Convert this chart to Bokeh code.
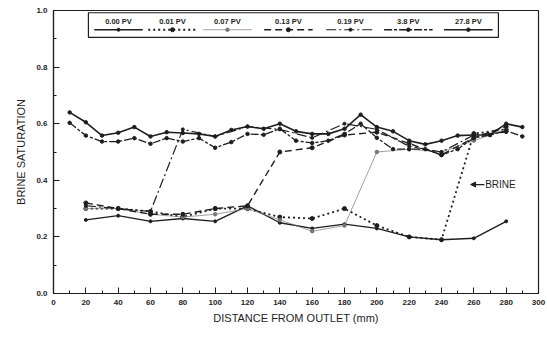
from bokeh.plotting import figure
from bokeh.models import Range1d, FixedTicker, Arrow, NormalHead, ColumnDataSource
from bokeh.core.properties import value
from bokeh.embed import file_html
from bokeh.resources import INLINE

# ---- data ----
x_fine = [10, 20, 30, 40, 50, 60, 70, 80, 90, 100, 110, 120, 130, 140, 150,
          160, 170, 180, 190, 200, 210, 220, 230, 240, 250, 260, 270, 280, 290]
x_coarse = [20, 40, 60, 80, 100, 120, 140, 160, 180, 200, 220, 240, 260, 280]

pv_000 = [0.26, 0.275, 0.255, 0.265, 0.255, 0.31, 0.25, 0.23, 0.245, 0.23, 0.20, 0.19, 0.195, 0.255]
pv_001 = [0.30, 0.30, 0.29, 0.27, 0.30, 0.30, 0.27, 0.265, 0.30, 0.24, 0.20, 0.19, 0.565, 0.58]
pv_007 = [0.30, 0.30, 0.28, 0.27, 0.28, 0.30, 0.26, 0.22, 0.24, 0.50, 0.51, 0.50, 0.54, 0.58]
pv_013 = [0.32, 0.30, 0.28, 0.28, 0.30, 0.31, 0.50, 0.515, 0.56, 0.57, 0.53, 0.49, 0.55, 0.59]
pv_019 = [0.31, 0.30, 0.29, 0.58, 0.555, 0.59, 0.58, 0.55, 0.60, 0.58, 0.52, 0.50, 0.56, 0.57]
pv_38 = [0.603, 0.558, 0.537, 0.537, 0.549, 0.529, 0.549, 0.537, 0.549, 0.515, 0.535, 0.564,
         0.561, 0.582, 0.54, 0.532, 0.54, 0.564, 0.60, 0.55, 0.51, 0.51, 0.51, 0.49, 0.51,
         0.55, 0.56, 0.575, 0.555]
pv_278 = [0.64, 0.605, 0.558, 0.568, 0.588, 0.555, 0.57, 0.567, 0.564, 0.555, 0.578, 0.59,
          0.582, 0.60, 0.573, 0.564, 0.564, 0.582, 0.632, 0.588, 0.573, 0.54, 0.527, 0.54,
          0.558, 0.56, 0.56, 0.60, 0.588]

labels = ["0.00 PV", "0.01 PV", "0.07 PV", "0.13 PV", "0.19 PV", "3.8 PV", "27.8 PV"]
x_ticks = list(range(0, 301, 20))
y_ticks = [0.0, 0.2, 0.4, 0.6, 0.8, 1.0]

# ---- styles ----
INK = "#1e1e1e"
FONT = "Liberation Sans"
styles = [
    dict(dash="solid", width=1.4, color=INK, msize=3),
    dict(dash="2 3", width=1.8, color=INK, msize=4),
    dict(dash="solid", width=0.7, color="#777777", msize=3.5),
    dict(dash="7 4", width=1.4, color=INK, msize=4),
    dict(dash="10 3 2 3", width=1.2, color=INK, msize=3),
    dict(dash="8 2 3 2", width=1.3, color=INK, msize=3.5),
    dict(dash="solid", width=1.6, color=INK, msize=3.5),
]
series = [(x_coarse, pv_000), (x_coarse, pv_001), (x_coarse, pv_007), (x_coarse, pv_013),
          (x_coarse, pv_019), (x_fine, pv_38), (x_fine, pv_278)]

p = figure(width=547, height=338, output_backend="svg", toolbar_location=None,
           x_range=Range1d(0, 300), y_range=Range1d(0, 1.0),
           min_border_left=53, min_border_right=9, min_border_top=10, min_border_bottom=45)
p.background_fill_color = "white"
p.border_fill_color = "white"
p.outline_line_color = INK
p.outline_line_width = 1.2
p.xgrid.visible = False
p.ygrid.visible = False

for (xs, ys), st in zip(series, styles):
    src = ColumnDataSource(dict(x=xs, y=ys))
    p.line("x", "y", source=src, line_dash=st["dash"], line_width=st["width"],
           line_color=st["color"])
    p.scatter("x", "y", source=src, size=st["msize"], marker="circle",
              fill_color=st["color"], line_color=st["color"])

# axes
p.xaxis.ticker = FixedTicker(ticks=x_ticks, minor_ticks=list(range(0, 301, 10)))
p.yaxis.ticker = FixedTicker(ticks=y_ticks, minor_ticks=[i / 10 for i in range(11)])
p.yaxis.major_label_overrides = {t: f"{t:.1f}" for t in y_ticks}
for ax in (p.xaxis[0], p.yaxis[0]):
    ax.axis_line_color = INK
    ax.axis_line_width = 1.2
    ax.major_tick_in = 6
    ax.major_tick_out = 0
    ax.minor_tick_in = 3
    ax.minor_tick_out = 0
    ax.major_tick_line_color = INK
    ax.minor_tick_line_color = INK
    ax.major_label_text_font = FONT
    ax.major_label_text_font_style = "bold"
    ax.major_label_text_font_size = "8px"
    ax.major_label_text_color = INK
    ax.axis_label_text_font = FONT
    ax.axis_label_text_font_style = "normal"
    ax.axis_label_text_font_size = "11px"
    ax.axis_label_text_color = INK
p.xaxis.axis_label = "DISTANCE FROM OUTLET (mm)"
p.yaxis.axis_label = "BRINE SATURATION"
p.xaxis.major_label_standoff = 6
p.yaxis.major_label_standoff = 6
p.xaxis.axis_label_standoff = 4
p.yaxis.axis_label_standoff = 6

# ---- legend box drawn in data space ----
leg_centers = [40.2, 73.6, 107.6, 145.3, 183.7, 219.5, 256.6]
leg_half = 15
leg_label_y = 0.962
leg_line_y = 0.932
p.quad(left=[21.6], right=[275.2], bottom=[0.905], top=[0.992],
       fill_color="white", line_color=INK, line_width=1.2)
p.text(x=leg_centers, y=[leg_label_y] * 7, text=labels, text_font=value(FONT),
       text_font_style="bold", text_font_size="7.5px", text_align="center",
       text_baseline="middle", text_color=INK)
for c, st in zip(leg_centers, styles):
    p.line([c - leg_half, c + leg_half], [leg_line_y, leg_line_y], line_dash=st["dash"],
           line_width=st["width"], line_color=st["color"])
    p.scatter([c], [leg_line_y], size=st["msize"], marker="circle",
              fill_color=st["color"], line_color=st["color"])

# ---- BRINE annotation ----
brine_x, brine_y = 267.0, 0.385
p.add_layout(Arrow(end=NormalHead(size=5, fill_color=INK, line_color=INK),
                   x_start=brine_x - 0.5, y_start=brine_y, x_end=brine_x - 9, y_end=brine_y,
                   line_color=INK, line_width=1.2))
p.text(x=[brine_x], y=[brine_y], text=["BRINE"], text_font=value(FONT),
       text_font_size="10px", text_align="left", text_baseline="middle", text_color=INK)

open("out.html", "w").write(file_html(p, INLINE))
